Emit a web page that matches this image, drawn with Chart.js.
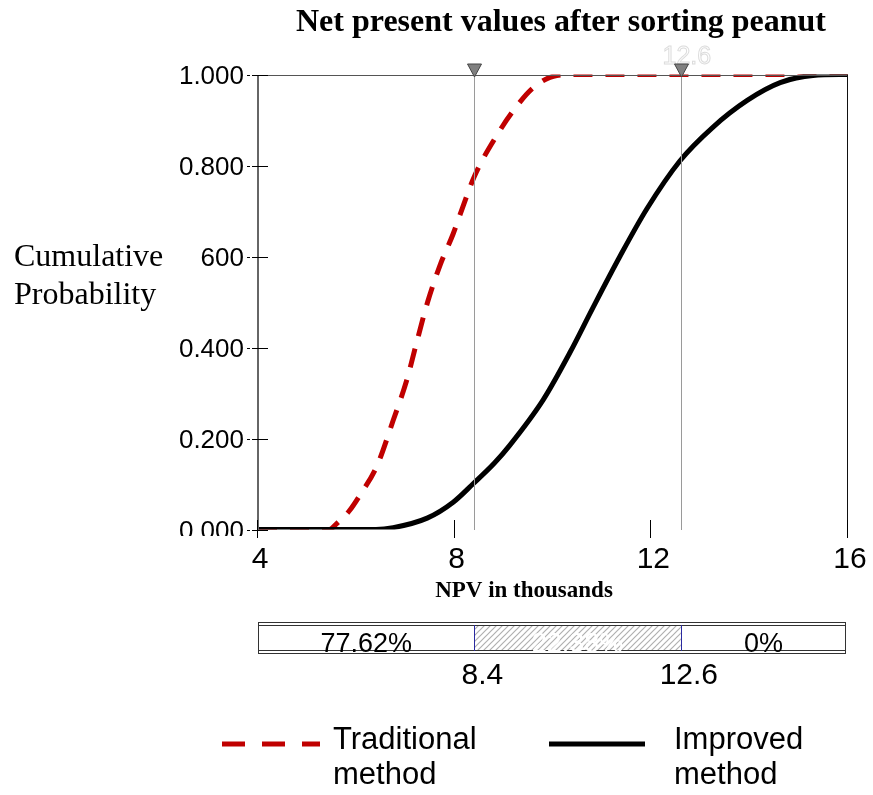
<!DOCTYPE html>
<html>
<head>
<meta charset="utf-8">
<script src="https://cdn.jsdelivr.net/npm/chart.js@4"></script>
<style>
  body { margin: 0; background: #fff; }
  #wrap { width: 873px; height: 795px; }
</style>
</head>
<body>
<div id="wrap"><canvas id="myChart" width="873" height="795"></canvas></div>
<script>
// NPV (thousands) vs cumulative probability
const npvTraditional = [4, 5.45, 5.6, 5.85, 6.07, 6.42, 6.75, 7.03, 7.2, 7.45, 7.7, 7.97, 8.17, 8.4, 8.92, 9.19, 9.59, 10.08, 10.5, 16];
const cdfTraditional = [0, 0, 0.013, 0.04, 0.075, 0.14, 0.24, 0.33, 0.40, 0.50, 0.58, 0.65, 0.71, 0.776, 0.877, 0.92, 0.97, 0.998, 1, 1];

const npvImproved = [4, 6.4, 6.75, 7.44, 7.97, 8.37, 8.8, 9.12, 9.8, 10.35, 10.8, 11.36, 11.91, 12.58, 13.25, 13.95, 14.62, 15.29, 16];
const cdfImproved = [0, 0, 0.004, 0.025, 0.06, 0.10, 0.145, 0.185, 0.285, 0.39, 0.485, 0.60, 0.705, 0.81, 0.884, 0.943, 0.982, 0.998, 1];

const xTicks = [4, 8, 12, 16];
const yTicks = [0, 0.2, 0.4, 0.6, 0.8, 1.0];
const yTickLabels = ['0.000', '0.200', '0.400', '600', '0.800', '1.000'];

const markers = [8.4, 12.6];
const markerLabels = ['8.4', '12.6'];
const bandLabels = ['77.62%', '22.38%', '0%'];

const seriesNames = {
    traditional: ['Traditional', 'method'],
    improved: ['Improved', 'method']
};

const toPoints = (xs, ys) => xs.map((x, i) => ({x: x, y: ys[i]}));

const hatch = (() => {
    const c = document.createElement('canvas');
    c.width = 6; c.height = 6;
    const g = c.getContext('2d');
    g.fillStyle = '#fff';
    g.fillRect(0, 0, 6, 6);
    g.strokeStyle = '#b0b0b0';
    g.lineWidth = 1.2;
    g.beginPath();
    g.moveTo(0, 6); g.lineTo(6, 0);
    g.moveTo(-3, 3); g.lineTo(3, -3);
    g.moveTo(3, 9); g.lineTo(9, 3);
    g.stroke();
    return c;
})();

const decorations = {
    id: 'decorations',
    afterDatasetsDraw(chart) {
        const ctx = chart.ctx;
        const a = chart.chartArea;
        const xs = chart.scales.x;
        const ys = chart.scales.y;
        const top0 = Math.round(a.top);
        const bot0 = Math.round(a.bottom);
        ctx.save();

        // marker lines
        ctx.strokeStyle = '#9a9a9a';
        ctx.lineWidth = 1;
        markers.forEach(m => {
            const px = Math.round(xs.getPixelForValue(m)) + 0.5;
            ctx.beginPath();
            ctx.moveTo(px, top0);
            ctx.lineTo(px, bot0);
            ctx.stroke();
        });

        // frame
        ctx.lineWidth = 1;
        ctx.strokeStyle = '#555';
        ctx.beginPath();
        ctx.moveTo(a.left, top0 + 0.5);
        ctx.lineTo(a.right, top0 + 0.5);
        ctx.stroke();
        ctx.strokeStyle = '#111';
        ctx.beginPath();
        ctx.moveTo(a.right - 0.5, top0);
        ctx.lineTo(a.right - 0.5, bot0);
        ctx.stroke();
        ctx.strokeStyle = '#666';
        ctx.lineWidth = 2;
        ctx.beginPath();
        ctx.moveTo(a.left, top0);
        ctx.lineTo(a.left, bot0);
        ctx.stroke();

        // faint marker value above the upper triangle
        ctx.lineWidth = 1;
        ctx.font = '25px "Liberation Sans", Arial, sans-serif';
        ctx.textAlign = 'center';
        ctx.textBaseline = 'alphabetic';
        ctx.fillStyle = '#fff';
        ctx.strokeStyle = '#dcdcdc';
        const px2 = xs.getPixelForValue(markers[1]) + 6;
        ctx.fillText(markerLabels[1], px2, top0 - 11);
        ctx.strokeText(markerLabels[1], px2, top0 - 11);

        // triangles on top
        ctx.fillStyle = '#808080';
        ctx.strokeStyle = '#444';
        markers.forEach(m => {
            const px = Math.round(xs.getPixelForValue(m)) + 0.5;
            ctx.beginPath();
            ctx.moveTo(px - 7, top0 - 11);
            ctx.lineTo(px + 7, top0 - 11);
            ctx.lineTo(px, top0 + 2);
            ctx.closePath();
            ctx.fill();
            ctx.stroke();
        });

        // y ticks
        ctx.strokeStyle = '#000';
        ctx.lineWidth = 1;
        yTicks.forEach(v => {
            const py = Math.round(ys.getPixelForValue(v)) + 0.5;
            ctx.beginPath();
            ctx.moveTo(a.left - 11, py); ctx.lineTo(a.left - 8, py);
            ctx.moveTo(a.left - 6, py); ctx.lineTo(a.left + 10, py);
            ctx.stroke();
        });
        ctx.save();
        ctx.beginPath();
        ctx.rect(0, 0, a.left, bot0 + 6);
        ctx.clip();
        ctx.fillStyle = '#000';
        ctx.font = '26px "Liberation Sans", Arial, sans-serif';
        ctx.textAlign = 'right';
        ctx.textBaseline = 'middle';
        yTicks.forEach((v, i) => {
            ctx.fillText(yTickLabels[i], a.left - 14, ys.getPixelForValue(v) + 2);
        });
        ctx.restore();

        // x ticks
        ctx.strokeStyle = '#000';
        xTicks.forEach(v => {
            const px = Math.round(xs.getPixelForValue(v)) - 0.5;
            ctx.beginPath();
            ctx.moveTo(px, bot0 - 10);
            ctx.lineTo(px, bot0 + 8);
            ctx.stroke();
        });
        ctx.fillStyle = '#000';
        ctx.font = '30px "Liberation Sans", Arial, sans-serif';
        ctx.textAlign = 'center';
        ctx.textBaseline = 'alphabetic';
        xTicks.forEach(v => {
            ctx.fillText(String(v), xs.getPixelForValue(v) + 2, bot0 + 38);
        });

        // titles
        ctx.font = 'bold 32px "Liberation Serif", "Times New Roman", serif';
        ctx.fillText('Net present values after sorting peanut', 561, 31);
        ctx.font = 'bold 23px "Liberation Serif", "Times New Roman", serif';
        ctx.fillText('NPV in thousands', 524, 597);
        ctx.font = '32px "Liberation Serif", "Times New Roman", serif';
        ctx.textAlign = 'left';
        ctx.fillText('Cumulative', 14, 266);
        ctx.fillText('Probability', 14, 304);

        // band bar below the axis
        const top = 622, bot = 654;
        const left = a.left, right = a.right - 2;
        const m0 = xs.getPixelForValue(markers[0]);
        const m1 = xs.getPixelForValue(markers[1]);
        ctx.fillStyle = ctx.createPattern(hatch, 'repeat');
        ctx.fillRect(m0, top + 4, m1 - m0, bot - top - 8);
        ctx.strokeStyle = '#333';
        ctx.lineWidth = 1;
        [top + 0.5, top + 3.5, bot - 3.5, bot - 0.5].forEach(y => {
            ctx.beginPath();
            ctx.moveTo(left, y); ctx.lineTo(right, y);
            ctx.stroke();
        });
        ctx.beginPath();
        ctx.moveTo(left + 0.5, top); ctx.lineTo(left + 0.5, bot);
        ctx.moveTo(right - 0.5, top); ctx.lineTo(right - 0.5, bot);
        ctx.stroke();
        ctx.strokeStyle = '#2a2aa0';
        [m0, m1].forEach(px => {
            ctx.beginPath();
            ctx.moveTo(Math.round(px) + 0.5, top + 3);
            ctx.lineTo(Math.round(px) + 0.5, bot - 3);
            ctx.stroke();
        });
        ctx.font = '27px "Liberation Sans", Arial, sans-serif';
        ctx.textAlign = 'center';
        ctx.textBaseline = 'alphabetic';
        const centres = [(left + m0) / 2, (m0 + m1) / 2, (m1 + right) / 2];
        bandLabels.forEach((t, i) => {
            ctx.fillStyle = i === 1 ? '#fff' : '#000';
            ctx.fillText(t, centres[i], 652);
        });
        ctx.fillStyle = '#000';
        ctx.font = '30px "Liberation Sans", Arial, sans-serif';
        markers.forEach((m, i) => {
            ctx.fillText(markerLabels[i], xs.getPixelForValue(m) + 8, 684);
        });

        // legend
        const legendItems = [
            {ds: chart.data.datasets[1], names: seriesNames.traditional, x0: 222, x1: 320, tx: 333},
            {ds: chart.data.datasets[0], names: seriesNames.improved, x0: 549, x1: 645, tx: 674}
        ];
        legendItems.forEach(it => {
            ctx.strokeStyle = it.ds.borderColor;
            ctx.lineWidth = 5;
            ctx.setLineDash(it.ds.borderDash ? [23, 17] : []);
            ctx.beginPath();
            ctx.moveTo(it.x0, 744); ctx.lineTo(it.x1, 744);
            ctx.stroke();
            ctx.setLineDash([]);
            ctx.fillStyle = '#000';
            ctx.textAlign = 'left';
            ctx.font = '31px "Liberation Sans", Arial, sans-serif';
            ctx.fillText(it.names[0], it.tx, 749);
            ctx.fillText(it.names[1], it.tx, 784);
        });

        ctx.restore();
    }
};

const ctx = document.getElementById('myChart').getContext('2d');

// improved first so it is painted on top of the red dashes along 0
const data = {
    datasets: [{
        label: 'Improved method',
        data: toPoints(npvImproved, cdfImproved),
        borderColor: '#000',
        borderWidth: 5,
        pointRadius: 0,
        cubicInterpolationMode: 'monotone',
        fill: false
    }, {
        label: 'Traditional method',
        data: toPoints(npvTraditional, cdfTraditional),
        borderColor: '#c00000',
        borderWidth: 5,
        borderDash: [19, 13],
        pointRadius: 0,
        cubicInterpolationMode: 'monotone',
        fill: false
    }]
};

const chart = new Chart(ctx, {
    type: 'line',
    data: data,
    options: {
        responsive: false,
        animation: false,
        devicePixelRatio: 1,
        // half-pixel padding keeps the 5px lines along 0 and 1 on whole pixels
        layout: { padding: { left: 258, right: 25, top: 74.5, bottom: 265.5 } },
        scales: {
            x: { type: 'linear', min: 4, max: 16, display: false },
            y: { min: 0, max: 1, display: false }
        },
        plugins: {
            legend: { display: false },
            tooltip: { enabled: false }
        }
    },
    plugins: [decorations]
});
</script>
</body>
</html>
